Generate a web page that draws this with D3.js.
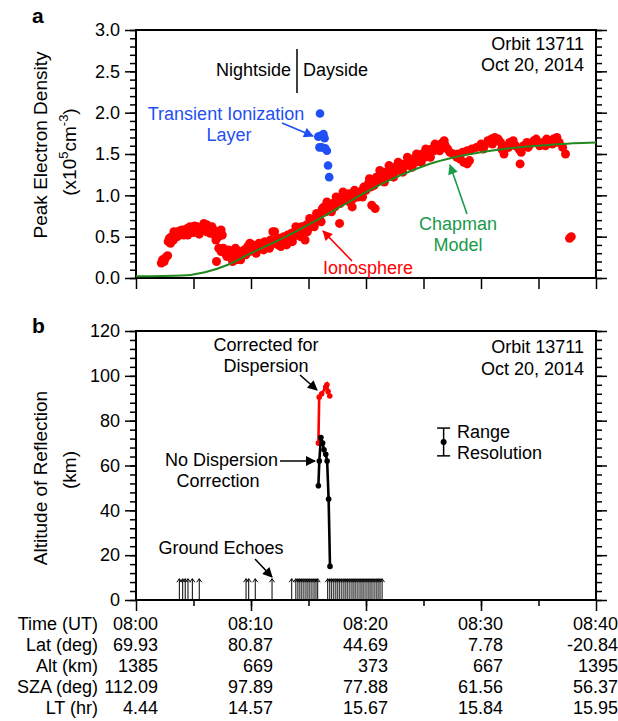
<!DOCTYPE html>
<html>
<head>
<meta charset="utf-8">
<script src="https://cdn.jsdelivr.net/npm/d3@7/dist/d3.min.js"></script>
<style>
body { margin: 0; background: #fff; }
svg text { font-family: "Liberation Sans", Arial, sans-serif; font-size: 18px; }
</style>
</head>
<body>
<div id="chart"></div>
<script>
// time is minutes after 08:00 UT
// panel a - ionosphere peak density (x10^5 cm^-3)
var ionoTime = [2.2,2.3,2.45,2.6,2.75,
  2.8,2.9,3.0,3.1,3.25,3.35,3.5,3.6,3.75,3.9,4.0,4.15,4.3,4.45,4.6,4.7,4.85,5.0,5.1,5.25,5.4,5.5,5.65,5.75,5.9,6.05,6.15,6.3,6.45,6.6,6.75,6.85,6.95,7.05,7.2,7.4,7.5,
  7.0,7.2,7.4,7.6,7.75,7.9,8.05,8.2,8.35,8.4,8.5,8.65,8.7,8.8,8.95,9.1,9.25,9.4,9.55,9.7,9.85,10.0,10.15,10.3,10.45,10.6,
  10.7,10.85,11.0,11.2,11.35,11.5,11.7,11.9,12.05,12.0,12.2,12.35,12.5,12.7,12.85,13.0,13.2,13.35,13.5,13.7,13.85,14.0,14.2,14.4,14.55,14.7,14.8,15.0,15.2,15.4,15.6,15.8,16.0,16.2,16.35,16.5,16.7,16.9,17.1,17.3,
  17.5,17.7,17.75,17.9,18.1,18.3,18.5,18.6,18.8,18.9,19.1,19.3,19.6,19.8,20.0,20.2,20.4,20.5,20.6,20.8,20.9,21.1,21.3,21.5,21.7,21.9,22.1,22.3,22.5,22.7,22.9,23.1,23.3,23.5,23.7,23.9,24.1,24.3,24.5,24.7,24.9,25.1,25.3,25.5,25.7,25.9,26.1,26.3,26.5,26.7,26.9,27.1,
  27.3,27.6,27.9,28.2,28.5,28.8,29.0,28.0,28.4,28.8,29.2,29.6,30.0,30.3,30.6,30.9,31.2,31.5,31.7,31.8,32.0,32.2,32.5,32.8,33.0,33.3,33.5,33.4,33.7,34.0,34.3,34.6,34.9,35.1,35.4,35.7,36.0,36.3,36.6,36.8,37.1,37.35,37.7,37.85,
  11.1,11.6,12.6,13.1,13.6,13.9,14.3,14.9,15.1,15.5,15.7,16.1,16.6,17.0,17.4,18.0,18.4,19.0,19.4,19.7,20.3,20.7,21.2,21.6,22.0,22.4,22.8,23.2,23.6,24.0,24.4,24.8,25.2,25.6,26.0,26.4,26.8,
  30.2,31.0,32.4,34.1,34.8,35.6,36.2,36.5,3.3,4.5,5.3,6.2,9.0,9.9];
var ionoDens = [0.18,0.22,0.2,0.25,0.27,
  0.44,0.48,0.42,0.5,0.46,0.52,0.55,0.5,0.57,0.54,0.58,0.52,0.56,0.6,0.57,0.62,0.58,0.55,0.63,0.6,0.56,0.53,0.58,0.62,0.66,0.6,0.56,0.6,0.54,0.62,0.58,0.52,0.46,0.56,0.5,0.58,0.52,
  0.2,0.36,0.32,0.36,0.3,0.26,0.34,0.28,0.24,0.2,0.3,0.36,0.22,0.28,0.32,0.22,0.3,0.34,0.28,0.38,0.32,0.36,0.4,0.34,0.3,0.38,
  0.42,0.36,0.4,0.44,0.38,0.42,0.46,0.56,0.56,0.42,0.46,0.4,0.48,0.44,0.5,0.46,0.52,0.48,0.54,0.5,0.56,0.58,0.54,0.62,0.58,0.46,0.64,0.6,0.68,0.66,0.72,0.7,0.76,0.84,0.86,0.8,0.88,0.84,0.9,0.86,
  0.94,0.66,0.9,0.98,0.94,1.0,1.02,0.92,0.86,0.96,1.0,0.98,1.04,1.1,1.06,1.14,1.1,0.88,1.18,0.84,1.22,1.18,1.26,1.22,1.28,1.24,1.32,1.28,1.34,1.3,1.36,1.34,1.38,1.36,1.42,1.38,1.44,1.4,1.46,1.44,1.5,1.46,1.52,1.5,1.56,1.54,1.58,1.6,1.62,1.64,1.6,1.56,
  1.52,1.5,1.46,1.44,1.4,1.38,1.42,1.5,1.52,1.54,1.56,1.58,1.62,1.6,1.66,1.68,1.7,1.68,1.64,1.56,1.5,1.6,1.64,1.66,1.6,1.56,1.52,1.38,1.6,1.64,1.62,1.66,1.64,1.6,1.64,1.68,1.66,1.68,1.7,1.64,1.58,1.5,0.48,0.5,
  0.34,0.36,0.38,0.4,0.44,0.62,0.5,0.56,0.72,0.62,0.78,0.68,0.92,0.8,0.98,1.04,0.94,1.06,1.04,0.98,1.2,1.12,1.3,1.16,1.36,1.22,1.4,1.28,1.46,1.34,1.5,1.4,1.56,1.46,1.62,1.54,1.66,
  1.56,1.62,1.58,1.58,1.68,1.6,1.62,1.64,0.56,0.52,0.62,0.64,0.26,0.42];
// transient ionization layer
var tilTime = [16.0,15.85,16.05,16.3,16.4,15.95,16.15,16.45,16.6,16.7,16.8];
var tilDens = [1.99,1.71,1.72,1.74,1.69,1.58,1.58,1.57,1.54,1.36,1.22];
// chapman model curve
var chapTime = [0,4,6,8,10,12,14,16,18,20,22,24,26,28,30,32,34,36,38,40];
var chapDens = [0.02,0.03,0.07,0.16,0.3,0.43,0.57,0.72,0.88,1.04,1.18,1.3,1.4,1.47,1.52,1.56,1.59,1.61,1.63,1.64];

// panel b - altitude of reflection (km)
var noCorrTime = [15.86,15.94,16.08,16.23,16.35,16.5,16.62,16.75,16.87];
var noCorrAlt = [51,62,72.5,70,67,65,62,45,15];
var corrTime = [15.86,15.93,16.15,16.5,16.6,16.7,16.85];
var corrAlt = [70,90.5,92,95,96,93,91];
var echoTime = [3.77,4.06,4.28,4.52,4.9,5.5,9.57,9.8,10.37,11.83,13.54,
  13.9,14.08,14.25,14.42,14.6,14.78,14.95,15.12,15.3,15.48,15.65,15.8,
  16.67,16.85,17.02,17.2,17.38,17.55,17.72,17.9,18.08,18.25,18.42,18.6,18.78,18.95,19.12,19.3,19.48,19.65,19.82,20.0,20.18,20.35,20.52,20.7,20.88,21.05,21.22,21.4];
var echoTop = 9.5;
var resTime = [26.75], resAlt = [70.5], resErr = [6.2];

// table under the time axis
var timeTicks = [0,10,20,30,40];
var rowNames = ["Time (UT)","Lat (deg)","Alt (km)","SZA (deg)","LT (hr)"];
var timeLabels = ["08:00","08:10","08:20","08:30","08:40"];
var latVals = ["69.93","80.87","44.69","7.78","-20.84"];
var altVals = ["1385","669","373","667","1395"];
var szaVals = ["112.09","97.89","77.88","61.56","56.37"];
var ltVals = ["4.44","14.57","15.67","15.84","15.95"];

var width = 618, height = 721;
var red = "#ff0000", blue = "#1f4ff5", green = "#1a9a4a", chapGreen = "#22881f";

var svg = d3.select("#chart").append("svg")
  .attr("width", width)
  .attr("height", height);

var defs = svg.append("defs");
function marker(id, color) {
  defs.append("marker")
    .attr("id", id)
    .attr("viewBox", "0 0 10 10")
    .attr("refX", 9).attr("refY", 5)
    .attr("markerUnits", "userSpaceOnUse")
    .attr("markerWidth", 11).attr("markerHeight", 10)
    .attr("orient", "auto")
    .append("path").attr("d", "M0,0 L10,5 L0,10 z").attr("fill", color);
}
marker("ah-black", "#000");
marker("ah-red", red);
marker("ah-blue", blue);
marker("ah-green", green);

function arrow(g, x1, y1, x2, y2, color, id) {
  g.append("line")
    .attr("x1", x1).attr("y1", y1).attr("x2", x2).attr("y2", y2)
    .attr("stroke", color).attr("stroke-width", 1.6)
    .attr("marker-end", "url(#" + id + ")");
}

var x = d3.scaleLinear().domain([0, 40]).range([136, 596]);
var ya = d3.scaleLinear().domain([0, 3]).range([278, 30]);
var yb = d3.scaleLinear().domain([0, 120]).range([600, 331]);

function frame(y, majors, minors, fmt, bottomMajor, bottomMinor) {
  var g = svg.append("g");
  g.append("g").attr("transform", "translate(136,0)")
    .call(d3.axisLeft(y).tickValues(minors).tickSize(6).tickFormat(""));
  g.append("g").attr("transform", "translate(136,0)")
    .call(d3.axisLeft(y).tickValues(majors).tickSize(11).tickPadding(5).tickFormat(fmt));
  g.append("g").attr("transform", "translate(596,0)")
    .call(d3.axisRight(y).tickValues(minors).tickSize(6).tickFormat(""));
  g.append("g").attr("transform", "translate(596,0)")
    .call(d3.axisRight(y).tickValues(majors).tickSize(11).tickFormat(""));
  g.append("g").attr("transform", "translate(0," + y.range()[0] + ")")
    .call(d3.axisBottom(x).tickValues(bottomMinor).tickSize(6).tickFormat(""));
  g.append("g").attr("transform", "translate(0," + y.range()[0] + ")")
    .call(d3.axisBottom(x).tickValues(bottomMajor).tickSize(11).tickFormat(""));
  g.selectAll(".domain").remove();
  g.selectAll(".tick line").attr("stroke", "#000").attr("stroke-width", 1.5);
  g.selectAll(".tick text").attr("fill", "#000").style("font-size", "18px")
    .style("font-family", "'Liberation Sans', Arial, sans-serif");
  g.append("rect")
    .attr("x", 136).attr("y", y.range()[1])
    .attr("width", 460).attr("height", y.range()[0] - y.range()[1])
    .attr("fill", "none").attr("stroke", "#000").attr("stroke-width", 2);
  return g;
}

// ---------- panel a ----------
var fiveMin = [5,10,15,20,25,30,35];
frame(ya, d3.range(0, 3.01, 0.5), d3.range(0, 3.01, 0.1), d3.format(".1f"), [0,5,10,15,20,25,30,35,40], []);

var pa = svg.append("g");
pa.append("defs").append("clipPath").attr("id", "clipA")
  .append("rect").attr("x", 136).attr("y", 30).attr("width", 460).attr("height", 248);

pa.selectAll("circle.iono").data(d3.range(ionoTime.length)).enter()
  .append("circle").attr("class", "iono")
  .attr("cx", function(i) { return x(ionoTime[i]); })
  .attr("cy", function(i) { return ya(ionoDens[i]); })
  .attr("r", 4.5)
  .attr("fill", red);

pa.selectAll("circle.til").data(d3.range(tilTime.length)).enter()
  .append("circle").attr("class", "til")
  .attr("cx", function(i) { return x(tilTime[i]); })
  .attr("cy", function(i) { return ya(tilDens[i]); })
  .attr("r", 4.3)
  .attr("fill", blue);

var chapLine = d3.line()
  .x(function(i) { return x(chapTime[i]); })
  .y(function(i) { return ya(chapDens[i]); })
  .curve(d3.curveMonotoneX);
pa.append("path")
  .attr("d", chapLine(d3.range(chapTime.length)))
  .attr("clip-path", "url(#clipA)")
  .attr("fill", "none").attr("stroke", chapGreen).attr("stroke-width", 2);

// labels panel a
svg.append("text").attr("x", 32).attr("y", 23).style("font-weight", "bold").style("font-size", "21px").text("a");
svg.append("text").attr("transform", "translate(47,145) rotate(-90)")
  .attr("text-anchor", "middle").style("font-size", "19px").text("Peak Electron Density");
var unitA = svg.append("text").attr("transform", "translate(76,152) rotate(-90)")
  .attr("text-anchor", "middle").style("font-size", "19px");
unitA.append("tspan").text("(x10");
unitA.append("tspan").attr("dy", -8).style("font-size", "13px").text("5");
unitA.append("tspan").attr("dy", 8).text("cm");
unitA.append("tspan").attr("dy", -8).style("font-size", "13px").text("-3");
unitA.append("tspan").attr("dy", 8).text(")");

svg.append("text").attr("x", 584).attr("y", 50).attr("text-anchor", "end").text("Orbit 13711");
svg.append("text").attr("x", 584).attr("y", 71).attr("text-anchor", "end").text("Oct 20, 2014");

svg.append("line").attr("x1", 297).attr("x2", 297).attr("y1", 49).attr("y2", 93)
  .attr("stroke", "#000").attr("stroke-width", 1.5);
svg.append("text").attr("x", 291).attr("y", 76).attr("text-anchor", "end").text("Nightside");
svg.append("text").attr("x", 303).attr("y", 76).text("Dayside");

svg.append("text").attr("x", 226).attr("y", 120).attr("text-anchor", "middle").attr("fill", blue).text("Transient Ionization");
svg.append("text").attr("x", 229).attr("y", 141).attr("text-anchor", "middle").attr("fill", blue).text("Layer");
arrow(svg, 282, 123, 313, 136, blue, "ah-blue");

svg.append("text").attr("x", 368).attr("y", 274).attr("text-anchor", "middle").attr("fill", red).text("Ionosphere");
arrow(svg, 352, 261, 323, 231, red, "ah-red");

svg.append("text").attr("x", 458).attr("y", 230).attr("text-anchor", "middle").attr("fill", green).text("Chapman");
svg.append("text").attr("x", 458).attr("y", 251).attr("text-anchor", "middle").attr("fill", green).text("Model");
arrow(svg, 467, 214, 450, 165, green, "ah-green");

// ---------- panel b ----------
frame(yb, d3.range(0, 121, 20), d3.range(0, 121, 4), d3.format("d"), timeTicks, fiveMin);

var pb = svg.append("g");

// ground echoes
pb.selectAll("line.echo").data(echoTime).enter()
  .append("line").attr("class", "echo")
  .attr("x1", function(d) { return x(d); }).attr("x2", function(d) { return x(d); })
  .attr("y1", yb(0)).attr("y2", yb(echoTop))
  .attr("stroke", "#000").attr("stroke-width", 1);
pb.selectAll("path.echohead").data(echoTime).enter()
  .append("path").attr("class", "echohead")
  .attr("d", function(d) {
    var px = x(d), py = yb(echoTop);
    return "M" + (px - 2.5) + "," + (py + 3.5) + "L" + px + "," + py + "L" + (px + 2.5) + "," + (py + 3.5);
  })
  .attr("fill", "none").attr("stroke", "#000").attr("stroke-width", 1);

var lineB = function(tt, aa) {
  return d3.line()
    .x(function(i) { return x(tt[i]); })
    .y(function(i) { return yb(aa[i]); })(d3.range(tt.length));
};
pb.append("path").attr("d", lineB(corrTime, corrAlt))
  .attr("fill", "none").attr("stroke", red).attr("stroke-width", 2.6);
pb.selectAll("circle.corr").data(d3.range(corrTime.length)).enter()
  .append("circle").attr("class", "corr")
  .attr("cx", function(i) { return x(corrTime[i]); })
  .attr("cy", function(i) { return yb(corrAlt[i]); })
  .attr("r", 2.8).attr("fill", red);

pb.append("path").attr("d", lineB(noCorrTime, noCorrAlt))
  .attr("fill", "none").attr("stroke", "#000").attr("stroke-width", 2.6);
pb.selectAll("circle.nocorr").data(d3.range(noCorrTime.length)).enter()
  .append("circle").attr("class", "nocorr")
  .attr("cx", function(i) { return x(noCorrTime[i]); })
  .attr("cy", function(i) { return yb(noCorrAlt[i]); })
  .attr("r", 2.8).attr("fill", "#000");

// range resolution bar
var rx = x(resTime[0]);
pb.append("line").attr("x1", rx).attr("x2", rx)
  .attr("y1", yb(resAlt[0] + resErr[0])).attr("y2", yb(resAlt[0] - resErr[0]))
  .attr("stroke", "#000").attr("stroke-width", 1.5);
[resAlt[0] + resErr[0], resAlt[0] - resErr[0]].forEach(function(v) {
  pb.append("line").attr("x1", rx - 6.5).attr("x2", rx + 6.5)
    .attr("y1", yb(v)).attr("y2", yb(v))
    .attr("stroke", "#000").attr("stroke-width", 1.5);
});
pb.append("circle").attr("cx", rx).attr("cy", yb(resAlt[0])).attr("r", 3).attr("fill", "#000");
svg.append("text").attr("x", 457).attr("y", 438).text("Range");
svg.append("text").attr("x", 457).attr("y", 459).text("Resolution");

svg.append("text").attr("x", 32).attr("y", 333).style("font-weight", "bold").style("font-size", "21px").text("b");
svg.append("text").attr("transform", "translate(47,478) rotate(-90)")
  .attr("text-anchor", "middle").style("font-size", "19px").text("Altitude of Reflection");
svg.append("text").attr("transform", "translate(76,470) rotate(-90)")
  .attr("text-anchor", "middle").style("font-size", "19px").text("(km)");

svg.append("text").attr("x", 584).attr("y", 353).attr("text-anchor", "end").text("Orbit 13711");
svg.append("text").attr("x", 584).attr("y", 375).attr("text-anchor", "end").text("Oct 20, 2014");

svg.append("text").attr("x", 266).attr("y", 351).attr("text-anchor", "middle").text("Corrected for");
svg.append("text").attr("x", 266).attr("y", 372).attr("text-anchor", "middle").text("Dispersion");
arrow(svg, 300, 375, 317, 390, "#000", "ah-black");

svg.append("text").attr("x", 278).attr("y", 466).attr("text-anchor", "end").text("No Dispersion");
svg.append("text").attr("x", 218).attr("y", 487).attr("text-anchor", "middle").text("Correction");
arrow(svg, 280, 461, 315, 461, "#000", "ah-black");

svg.append("text").attr("x", 221).attr("y", 554).attr("text-anchor", "middle").text("Ground Echoes");
arrow(svg, 255, 559, 272, 577, "#000", "ah-black");

// ---------- table ----------
var rows = [timeLabels, latVals, altVals, szaVals, ltVals];
var rowY = [630, 651, 672, 693, 714];
var table = svg.append("g");
rows.forEach(function(vals, r) {
  table.append("text").attr("x", 98).attr("y", rowY[r]).attr("text-anchor", "end").text(rowNames[r]);
  table.selectAll("text.c" + r).data(vals).enter()
    .append("text").attr("class", "c" + r)
    .attr("x", function(d, i) { return x(timeTicks[i]) + 22; })
    .attr("y", rowY[r])
    .attr("text-anchor", "end")
    .text(function(d) { return d; });
});
</script>
</body>
</html>
